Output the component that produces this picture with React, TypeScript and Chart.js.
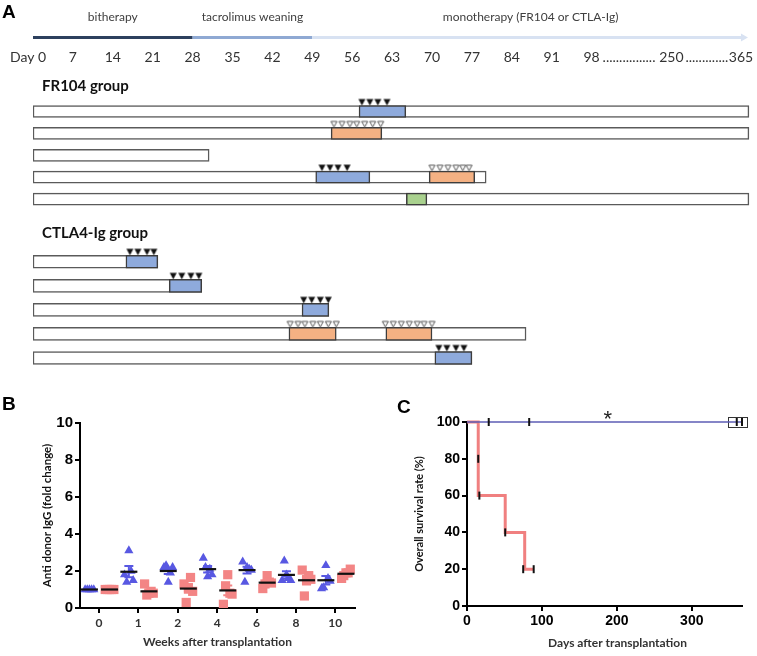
import React, { useEffect, useRef } from 'react';
import { Chart, registerables } from 'chart.js';

Chart.register(...registerables);

const SANS = '"Liberation Sans", Arial, sans-serif';
const CAL = 'Lato, "Open Sans", sans-serif';

// ---------------- Panel A : treatment timeline ----------------
const phaseLabels = ['bitherapy', 'tacrolimus weaning', 'monotherapy (FR104 or CTLA-Ig)'];
const phaseStart = [0, 28, 49];
const phaseEnd = [28, 49, 125.6];
const phaseColors = ['#2d405e', '#8fa9d3', '#d8e2f2'];
const dayTicks = [7, 14, 21, 28, 35, 42, 49, 56, 63, 70, 77, 84, 91, 98];
const farTickLabels = ['250', '365'];
const farTickValues = [112, 124.2]; // compressed axis units beyond day 98

const fr104Rows = ['FR104-1', 'FR104-2', 'FR104-3', 'FR104-4', 'FR104-5'];
const fr104End = [125.6, 125.6, 30.9, 79.5, 125.6];
const fr104Blue = [[57.2, 65.4], null, null, [49.6, 59.1], null];
const fr104Orange = [null, [52.3, 61.2], null, [69.5, 77.5], null];
const fr104Green = [null, null, null, null, [65.5, 69.1]];
const fr104Filled: Array<[string, number[]]> = [
  ['FR104-1', [57.7, 59.1, 60.5, 62.1]],
  ['FR104-4', [50.7, 52.1, 53.5, 55.1]],
];
const fr104Hollow: Array<[string, number[]]> = [
  ['FR104-2', [52.8, 54.2, 55.6, 56.8, 58.2, 59.6, 61.0]],
  ['FR104-4', [70.0, 71.4, 72.8, 74.2, 75.4, 76.5]],
];

const ctlaRows = ['CTLA-1', 'CTLA-2', 'CTLA-3', 'CTLA-4', 'CTLA-5'];
const ctlaEnd = [21.9, 29.6, 51.9, 86.5, 77.0];
const ctlaBlue = [[16.3, 21.9], [23.9, 29.6], [47.2, 51.9], null, [70.5, 77.0]];
const ctlaOrange = [null, null, null, [44.9, 53.2], null];
const ctlaOrange2 = [null, null, null, [61.9, 70.0], null];
const ctlaFilled: Array<[string, number[]]> = [
  ['CTLA-1', [17.0, 18.4, 20.0, 21.2]],
  ['CTLA-2', [24.6, 26.1, 27.7, 29.1]],
  ['CTLA-3', [47.5, 48.9, 50.4, 51.8]],
  ['CTLA-5', [71.2, 72.6, 74.2, 75.6]],
];
const ctlaHollow: Array<[string, number[]]> = [
  ['CTLA-4', [45.1, 46.5, 47.7, 49.1, 50.4, 51.8, 53.2, 61.8, 63.2, 64.6, 66.0, 67.4, 68.6, 70.0]],
];

// ---------------- Panel B : anti-donor IgG ----------------
const weekLabels = ['0', '1', '2', '4', '6', '8', '10'];
const fr104Igg = [
  [1.0, 1.0, 1.0, 1.0, 1.0],
  [1.8, 1.4, 3.1, 2.0, 1.5],
  [2.2, 2.3, 1.4, 1.9, 2.2],
  [2.7, 2.2, 1.7, 2.1, 1.8],
  [2.5, 1.4, 2.2, 2.1, 2.05],
  [1.5, 2.55, 1.8, 1.6, 1.5],
  [1.05, 1.1, 2.3, 1.6, 1.45],
];
const ctlaIgg = [
  [1.0, 1.0, 1.0, 1.0, 1.0],
  [1.3, 0.7, 0.8, 0.9, 0.8],
  [1.3, 0.3, 1.1, 1.65, 0.9],
  [0.2, 1.2, 1.8, 0.8, 0.75],
  [1.05, 1.3, 1.75, 1.4, 1.35],
  [2.05, 0.65, 1.5, 1.75, 1.55],
  [1.6, 1.75, 1.9, 1.9, 2.1],
];

// ---------------- Panel C : survival ----------------
const fr104Days = [0, 366];
const fr104Survival = [100, 100];
const ctlaDays = [0, 15, 15, 51, 77, 89];
const ctlaSurvival = [100, 80, 60, 40, 20, 20];
const censorDays = [15, 16.5, 51, 75, 89, 29, 83, 360, 367];
const censorSurvival = [80, 60, 40, 20, 20, 100, 100, 100, 100];
const censorBoxDays = [348, 373];
const sigMark = '*';
const sigMarkDay = 188;

const BLUE = '#5858e2';
const RED = '#f38585';

const mean = (a: number[]) => a.reduce((s, v) => s + v, 0) / a.length;
const sem = (a: number[]) => {
  const m = mean(a);
  const v = a.reduce((s, x) => s + (x - m) * (x - m), 0) / (a.length - 1);
  return Math.sqrt(v) / Math.sqrt(a.length);
};

function makeTriangle(filled: boolean, half: number) {
  const w = 9;
  const h = 2 * (half + 8);
  const c = document.createElement('canvas');
  c.width = w;
  c.height = h;
  const g = c.getContext('2d')!;
  const cy = h / 2;
  const bottom = cy - half;
  const top = bottom - 6.5;
  g.beginPath();
  if (filled) {
    g.moveTo(1, top);
    g.lineTo(w - 1, top);
    g.lineTo(w / 2, bottom);
    g.closePath();
    g.fillStyle = '#111';
    g.fill();
  } else {
    g.moveTo(1.5, top + 0.5);
    g.lineTo(w - 1.5, top + 0.5);
    g.lineTo(w / 2, bottom - 0.5);
    g.closePath();
    g.fillStyle = '#fff';
    g.fill();
    g.strokeStyle = '#555';
    g.lineWidth = 1;
    g.stroke();
  }
  return c;
}

const toPts = (list: Array<[string, number[]]>) =>
  list.flatMap(([row, days]) => days.map((d) => ({ x: d, y: row })));

function rowChart(
  canvas: HTMLCanvasElement,
  rows: string[],
  ends: number[],
  boxes: Array<{ data: any[]; color: string }>,
  filled: Array<[string, number[]]>,
  hollow: Array<[string, number[]]>,
  thickness: number,
  padTop: number,
  padBottom: number,
  plugin: any
) {
  const half = thickness / 2;
  const boxSets = boxes.map((b) => ({
    type: 'bar' as const,
    indexAxis: 'y' as const,
    data: b.data,
    backgroundColor: b.color,
    borderColor: '#3d3d3d',
    borderWidth: 1.5,
    borderSkipped: false,
    barThickness: thickness,
    grouped: false,
    order: 1,
  }));
  return new Chart(canvas, {
    type: 'bar',
    data: {
      labels: rows,
      datasets: [
        {
          type: 'scatter',
          data: toPts(filled),
          pointStyle: makeTriangle(true, half),
          pointRadius: 3,
          clip: false,
          order: 0,
        } as any,
        {
          type: 'scatter',
          data: toPts(hollow),
          pointStyle: makeTriangle(false, half),
          pointRadius: 3,
          clip: false,
          order: 0,
        } as any,
        ...boxSets,
        {
          type: 'bar',
          indexAxis: 'y',
          data: ends.map((e) => [0, e]),
          backgroundColor: '#ffffff',
          borderColor: '#5a5a5a',
          borderWidth: 1.5,
          borderSkipped: false,
          barThickness: thickness,
          grouped: false,
          order: 2,
        } as any,
      ],
    },
    options: {
      responsive: false,
      animation: false,
      events: [],
      layout: { padding: { left: 33, right: 757 - 33 - 126 * 5.7, top: padTop, bottom: padBottom } },
      plugins: { legend: { display: false }, tooltip: { enabled: false } },
      scales: {
        x: { type: 'linear', min: 0, max: 126, display: false, offset: false, grid: { offset: false } },
        y: { type: 'category', display: false, offset: true },
      },
    } as any,
    plugins: [plugin],
  });
}

const headerPlugin = {
  id: 'header',
  afterDraw(chart: any) {
    const { ctx } = chart;
    const xs = chart.scales.x;
    const px = (v: number) => xs.getPixelForValue(v);
    ctx.save();
    ctx.fillStyle = '#000';
    ctx.textAlign = 'left';
    ctx.textBaseline = 'alphabetic';
    ctx.font = `bold 19px ${SANS}`;
    ctx.fillText('A', 2, 18);

    ctx.font = `12px ${CAL}`;
    ctx.fillStyle = '#404040';
    ctx.textAlign = 'center';
    ctx.textBaseline = 'middle';
    phaseLabels.forEach((t, i) => ctx.fillText(t, px((phaseStart[i] + phaseEnd[i]) / 2), 17));

    ctx.lineWidth = 3;
    phaseLabels.forEach((_, i) => {
      ctx.strokeStyle = phaseColors[i];
      ctx.beginPath();
      ctx.moveTo(px(phaseStart[i]), 37.5);
      ctx.lineTo(px(phaseEnd[i]) - (i === 2 ? 5 : 0), 37.5);
      ctx.stroke();
    });
    const tip = px(phaseEnd[2]) - 1;
    ctx.fillStyle = phaseColors[2];
    ctx.beginPath();
    ctx.moveTo(tip, 37.5);
    ctx.lineTo(tip - 7, 33.5);
    ctx.lineTo(tip - 7, 41.5);
    ctx.closePath();
    ctx.fill();

    ctx.font = `14px ${CAL}`;
    ctx.fillStyle = '#333';
    ctx.textAlign = 'left';
    ctx.fillText('Day 0', px(0) - 23, 57.5);
    ctx.textAlign = 'center';
    dayTicks.forEach((d) => ctx.fillText(String(d), px(d), 57.5));
    farTickLabels.forEach((t, i) => ctx.fillText(t, px(farTickValues[i]), 57.5));
    // dotted gaps of the broken axis
    const dotW = ctx.measureText('.').width;
    const gaps = [
      [px(dayTicks[dayTicks.length - 1]) + 11, px(farTickValues[0]) - 13],
      [px(farTickValues[0]) + 14, px(farTickValues[1]) - 12],
    ];
    ctx.textAlign = 'left';
    gaps.forEach(([a, b]) => {
      const n = Math.floor((b - a) / dotW);
      ctx.fillText('.'.repeat(n), a, 57.5);
    });

    ctx.font = `bold 15px ${CAL}`;
    ctx.fillStyle = '#111';
    ctx.textBaseline = 'alphabetic';
    ctx.fillText('FR104 group', 42, 91);
    ctx.restore();
  },
};

const ctlaTitlePlugin = {
  id: 'ctlaTitle',
  afterDraw(chart: any) {
    const { ctx } = chart;
    ctx.save();
    ctx.font = `bold 15px ${CAL}`;
    ctx.fillStyle = '#111';
    ctx.textAlign = 'left';
    ctx.textBaseline = 'alphabetic';
    ctx.fillText('CTLA4-Ig group', 42, 22.5);
    ctx.restore();
  },
};

function PanelA() {
  const topRef = useRef<HTMLCanvasElement>(null);
  const botRef = useRef<HTMLCanvasElement>(null);
  useEffect(() => {
    const c1 = rowChart(
      topRef.current!,
      fr104Rows,
      fr104End,
      [
        { data: fr104Blue, color: '#8eaadc' },
        { data: fr104Orange, color: '#f4b183' },
        { data: fr104Green, color: '#a9d18e' },
      ],
      fr104Filled,
      fr104Hollow,
      12,
      100.6,
      0.6,
      headerPlugin
    );
    const c2 = rowChart(
      botRef.current!,
      ctlaRows,
      ctlaEnd,
      [
        { data: ctlaBlue, color: '#8eaadc' },
        { data: ctlaOrange, color: '#f4b183' },
        { data: ctlaOrange2, color: '#f4b183' },
      ],
      ctlaFilled,
      ctlaHollow,
      13,
      34.75,
      2.75,
      ctlaTitlePlugin
    );
    return () => {
      c1.destroy();
      c2.destroy();
    };
  }, []);
  return (
    <>
      <canvas ref={topRef} width={757} height={215} style={{ position: 'absolute', left: 0, top: 0 }} />
      <canvas ref={botRef} width={757} height={160} style={{ position: 'absolute', left: 0, top: 215 }} />
    </>
  );
}

const FR_OFF = -0.24;
const CT_OFF = 0.27;
const SPREAD = 0.055;

const spreadPts = (groups: number[][], off: number) =>
  groups.flatMap((vals, i) => vals.map((v, k) => ({ x: i + off + (k - (vals.length - 1) / 2) * SPREAD, y: v })));

const semPlugin = {
  id: 'sem',
  afterDatasetDraw(chart: any, args: any) {
    const ds = chart.data.datasets[args.index];
    const grp = ds.label === 'FR104' ? fr104Igg : ds.label === 'CTLA4-Ig' ? ctlaIgg : null;
    if (!grp) return;
    const off = ds.label === 'FR104' ? FR_OFF : CT_OFF;
    const { ctx } = chart;
    const { x, y } = chart.scales;
    ctx.save();
    ctx.strokeStyle = ds.backgroundColor;
    ctx.lineWidth = 2;
    grp.forEach((vals, i) => {
      const m = mean(vals);
      const s = sem(vals);
      if (s < 1e-6) return;
      const p = x.getPixelForValue(i + off);
      const y1 = y.getPixelForValue(m - s);
      const y2 = y.getPixelForValue(m + s);
      ctx.beginPath();
      ctx.moveTo(p, y1);
      ctx.lineTo(p, y2);
      ctx.moveTo(p - 4.5, y1);
      ctx.lineTo(p + 4.5, y1);
      ctx.moveTo(p - 4.5, y2);
      ctx.lineTo(p + 4.5, y2);
      ctx.stroke();
    });
    ctx.restore();
  },
  afterDraw(chart: any) {
    const { ctx } = chart;
    ctx.save();
    ctx.font = `bold 19px ${SANS}`;
    ctx.fillStyle = '#000';
    ctx.textAlign = 'left';
    ctx.textBaseline = 'alphabetic';
    ctx.fillText('B', 2, 30);
    ctx.restore();
  },
};

function PanelB() {
  const ref = useRef<HTMLCanvasElement>(null);
  useEffect(() => {
    const chart = new Chart(ref.current!, {
      type: 'scatter',
      data: {
        datasets: [
          {
            label: 'FR104 mean',
            data: fr104Igg.map((v, i) => ({ x: i + FR_OFF, y: mean(v) })),
            pointStyle: 'line',
            pointRadius: 8.5,
            borderColor: '#111',
            borderWidth: 2.2,
            order: 0,
          },
          {
            label: 'CTLA4-Ig mean',
            data: ctlaIgg.map((v, i) => ({ x: i + CT_OFF, y: mean(v) })),
            pointStyle: 'line',
            pointRadius: 8.5,
            borderColor: '#111',
            borderWidth: 2.2,
            order: 0,
          },
          {
            label: 'FR104',
            data: spreadPts(fr104Igg, FR_OFF),
            pointStyle: 'triangle',
            pointRadius: 5.3,
            backgroundColor: BLUE,
            borderColor: BLUE,
            borderWidth: 0,
            order: 2,
          },
          {
            label: 'CTLA4-Ig',
            data: spreadPts(ctlaIgg, CT_OFF),
            pointStyle: 'rect',
            pointRadius: 6.5,
            backgroundColor: RED,
            borderColor: RED,
            borderWidth: 0,
            order: 3,
          },
        ],
      } as any,
      options: {
        responsive: false,
        animation: false,
        events: [],
        layout: { padding: { left: 0, top: 43, right: 25, bottom: 0 } },
        plugins: { legend: { display: false }, tooltip: { enabled: false } },
        scales: {
          x: {
            type: 'linear',
            min: -0.48,
            max: 6.5,
            afterBuildTicks: (s: any) => {
              s.ticks = weekLabels.map((_, i) => ({ value: i }));
            },
            afterFit: (s: any) => {
              s.height = 48;
            },
            ticks: {
              callback: (v: any) => weekLabels[v],
              font: { family: CAL, size: 12, weight: 'bold' },
              color: '#333',
              padding: 3,
              autoSkip: false,
              maxRotation: 0,
            },
            grid: { drawOnChartArea: false, tickLength: 5, color: '#000', lineWidth: 2 },
            border: { color: '#000', width: 2 },
            title: {
              display: true,
              text: 'Weeks after transplantation',
              font: { family: CAL, size: 12, weight: 'bold' },
              color: '#333',
              padding: { top: 0, bottom: 7 },
            },
          },
          y: {
            min: 0,
            max: 10,
            afterFit: (s: any) => {
              s.width = 80;
            },
            ticks: { stepSize: 2, font: { family: SANS, size: 15, weight: 'bold' }, color: '#000', padding: 2 },
            grid: { drawOnChartArea: false, tickLength: 5, color: '#000', lineWidth: 2 },
            border: { color: '#000', width: 2 },
            title: {
              display: true,
              text: 'Anti donor IgG (fold change)',
              font: { family: CAL, size: 11.5, weight: 'bold' },
              color: '#111',
              padding: { top: 40, bottom: 0 },
            },
          },
        },
      } as any,
      plugins: [semPlugin],
    });
    return () => chart.destroy();
  }, []);
  return <canvas ref={ref} width={380} height={276} style={{ position: 'absolute', left: 0, top: 380 }} />;
}

const survPlugin = {
  id: 'surv',
  beforeDatasetsDraw(chart: any) {
    const { ctx } = chart;
    const { x, y } = chart.scales;
    const a = x.getPixelForValue(censorBoxDays[0]);
    const b = x.getPixelForValue(censorBoxDays[1]);
    const yc = y.getPixelForValue(100);
    ctx.save();
    ctx.fillStyle = '#fff';
    ctx.strokeStyle = '#333';
    ctx.lineWidth = 1;
    ctx.fillRect(a, yc - 5, b - a, 10);
    ctx.strokeRect(Math.round(a) + 0.5, Math.round(yc - 5) + 0.5, Math.round(b - a), 10);
    ctx.restore();
  },
  afterDraw(chart: any) {
    const { ctx, chartArea } = chart;
    const { x, y } = chart.scales;
    ctx.save();
    ctx.font = `bold 19px ${SANS}`;
    ctx.fillStyle = '#000';
    ctx.textAlign = 'left';
    ctx.textBaseline = 'alphabetic';
    ctx.fillText('C', 17, 33);
    ctx.font = `22px ${SANS}`;
    ctx.textAlign = 'center';
    ctx.fillStyle = '#222';
    ctx.fillText(sigMark, x.getPixelForValue(sigMarkDay), y.getPixelForValue(100) + 4);
    // x-axis title (slightly right of centre, as in the original)
    ctx.font = `bold 12px ${CAL}`;
    ctx.fillStyle = '#333';
    ctx.textBaseline = 'middle';
    ctx.fillText('Days after transplantation', (chartArea.left + chartArea.right) / 2 + 13, 263);
    ctx.restore();
  },
};

function PanelC() {
  const ref = useRef<HTMLCanvasElement>(null);
  useEffect(() => {
    const chart = new Chart(ref.current!, {
      type: 'scatter',
      data: {
        datasets: [
          {
            label: 'censored',
            data: censorDays.map((d, i) => ({ x: d, y: censorSurvival[i] })),
            pointStyle: 'line',
            rotation: 90,
            pointRadius: 4,
            borderColor: '#111',
            borderWidth: 2,
            clip: false,
            order: 0,
          },
          {
            label: 'FR104',
            data: fr104Days.map((d, i) => ({ x: d, y: fr104Survival[i] })),
            showLine: true,
            pointRadius: 0,
            borderColor: '#5d5db5',
            borderWidth: 1.6,
            clip: false,
            order: 1,
          },
          {
            label: 'CTLA4-Ig',
            data: ctlaDays.map((d, i) => ({ x: d, y: ctlaSurvival[i] })),
            showLine: true,
            stepped: 'before',
            pointRadius: 0,
            borderColor: '#f08080',
            borderWidth: 3,
            clip: false,
            order: 2,
          },
        ],
      } as any,
      options: {
        responsive: false,
        animation: false,
        events: [],
        layout: { padding: { left: 0, top: 42, right: 15, bottom: 0 } },
        plugins: { legend: { display: false }, tooltip: { enabled: false } },
        scales: {
          x: {
            type: 'linear',
            min: 0,
            max: 367,
            afterBuildTicks: (s: any) => {
              s.ticks = [0, 100, 200, 300].map((v) => ({ value: v }));
            },
            afterFit: (s: any) => {
              s.height = 50;
            },
            ticks: { font: { family: SANS, size: 14, weight: 'bold' }, color: '#000', padding: 2, maxRotation: 0 },
            grid: { drawOnChartArea: false, tickLength: 5, color: '#000', lineWidth: 2 },
            border: { color: '#000', width: 2 },
            title: { display: false },
          },
          y: {
            min: 0,
            max: 100,
            afterFit: (s: any) => {
              s.width = 87;
            },
            ticks: { stepSize: 20, font: { family: SANS, size: 14, weight: 'bold' }, color: '#000', padding: 2 },
            grid: { drawOnChartArea: false, tickLength: 5, color: '#000', lineWidth: 2 },
            border: { color: '#000', width: 2 },
            title: {
              display: true,
              text: 'Overall survival rate (%)',
              font: { family: CAL, size: 11, weight: 'bold' },
              color: '#111',
              padding: { top: 33, bottom: 0 },
            },
          },
        },
      } as any,
      plugins: [survPlugin],
    });
    return () => chart.destroy();
  }, []);
  return <canvas ref={ref} width={377} height={276} style={{ position: 'absolute', left: 380, top: 380 }} />;
}

export default function App() {
  return (
    <div style={{ position: 'absolute', left: 0, top: 0, width: 757, height: 656, background: '#fff', overflow: 'hidden' }}>
      <PanelA />
      <PanelB />
      <PanelC />
    </div>
  );
}
